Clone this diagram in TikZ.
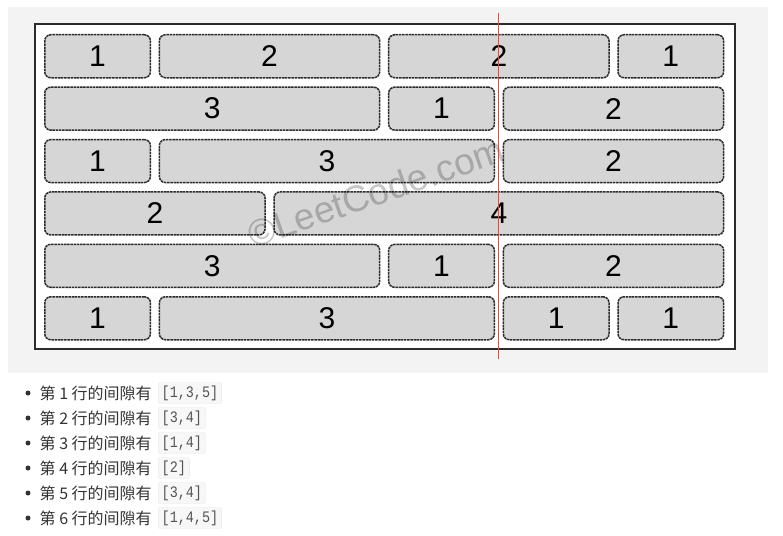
\documentclass[tikz,border=0pt]{standalone}
\usepackage{fontspec}
\setmainfont{Liberation Sans}
\newfontfamily\cjk{Noto Sans CJK SC}
\newfontfamily\codefont[FakeStretch=0.84]{Liberation Mono}
\definecolor{bgpanel}{HTML}{F3F3F3}
\definecolor{brickfill}{HTML}{D6D6D6}
\definecolor{brickline}{HTML}{2B2B2B}
\definecolor{redcut}{HTML}{E8483C}
\definecolor{listtext}{HTML}{333333}
\definecolor{codebg}{HTML}{F7F7F7}
\definecolor{codeline}{HTML}{E6E6E6}
\definecolor{codetext}{HTML}{555555}
\tikzset{
  brick/.style={draw=brickline, fill=brickfill, rounded corners=6pt,
    line width=1.5pt, dash pattern=on 2.5pt off 0.7pt,
    minimum height=43pt, inner sep=0pt,
    font=\fontsize{30}{30}\selectfont},
  redline/.style={draw=redcut, line width=1.4pt},
  wall/.style={draw=brickline, line width=2pt, fill=white},
  itemtext/.style={anchor=west, inner sep=0pt, text=listtext,
    font=\cjk\fontsize{16}{16}\selectfont},
  codebox/.style={anchor=west, draw=codeline, fill=codebg, rounded corners=2pt,
    inner xsep=3.5pt, inner ysep=0pt, minimum height=21pt, text=codetext,
    font=\codefont\fontsize{16}{16}\selectfont},
  bulletdot/.style={circle, fill=listtext, inner sep=0pt, minimum size=5pt},
  watermark/.style={text=black, text opacity=0.22, rotate=19,
    font=\fontsize{37}{37}\selectfont}
}
\newcommand{\mybrick}[4]{%
  \pgfmathsetmacro{\brkx}{44+#3*114.65}%
  \pgfmathsetmacro{\brky}{34+(#2-1)*52.4}%
  \pgfmathsetmacro{\brkw}{#4*114.65-9}%
  \node[brick, minimum width=\brkw pt, anchor=north west] (#1) at (\brkx,\brky) {#4};}
\newcommand{\myitem}[3]{%
  \pgfmathsetmacro{\itmy}{393+(#1-1)*25}%
  \node[bulletdot] (dot#1) at (28,\itmy) {};
  \node[itemtext] (txt#1) at (39.5,\itmy) {第 #1 行的间隙有};
  \node[codebox] (code#1) at (158,\itmy) {#2};}
\begin{document}
\begin{tikzpicture}[x=1pt,y=-1pt]
  \useasboundingbox (0,0) rectangle (783,535);
  \fill[bgpanel] (8,7) rectangle (768,373);
  \draw[wall] (35,24) rectangle (735,349);
  % row 1
  \mybrick{r1a}{1}{0}{1}
  \mybrick{r1b}{1}{1}{2}
  \mybrick{r1c}{1}{3}{2}
  \mybrick{r1d}{1}{5}{1}
  % row 2
  \mybrick{r2a}{2}{0}{3}
  \mybrick{r2b}{2}{3}{1}
  \mybrick{r2c}{2}{4}{2}
  % row 3
  \mybrick{r3a}{3}{0}{1}
  \mybrick{r3b}{3}{1}{3}
  \mybrick{r3c}{3}{4}{2}
  % row 4
  \mybrick{r4a}{4}{0}{2}
  \mybrick{r4b}{4}{2}{4}
  % row 5
  \mybrick{r5a}{5}{0}{3}
  \mybrick{r5b}{5}{3}{1}
  \mybrick{r5c}{5}{4}{2}
  % row 6
  \mybrick{r6a}{6}{0}{1}
  \mybrick{r6b}{6}{1}{3}
  \mybrick{r6c}{6}{4}{1}
  \mybrick{r6d}{6}{5}{1}
  % watermark
  \node[watermark] (wm) at (376,192) {©LeetCode.com};
  % cut line
  \coordinate (cuttop) at (498.5,13);
  \coordinate (cutbot) at (498.5,359);
  \draw[redline] (cuttop) -- (cutbot);
  % list
  \myitem{1}{[1,3,5]}{}
  \myitem{2}{[3,4]}{}
  \myitem{3}{[1,4]}{}
  \myitem{4}{[2]}{}
  \myitem{5}{[3,4]}{}
  \myitem{6}{[1,4,5]}{}
\end{tikzpicture}
\end{document}
